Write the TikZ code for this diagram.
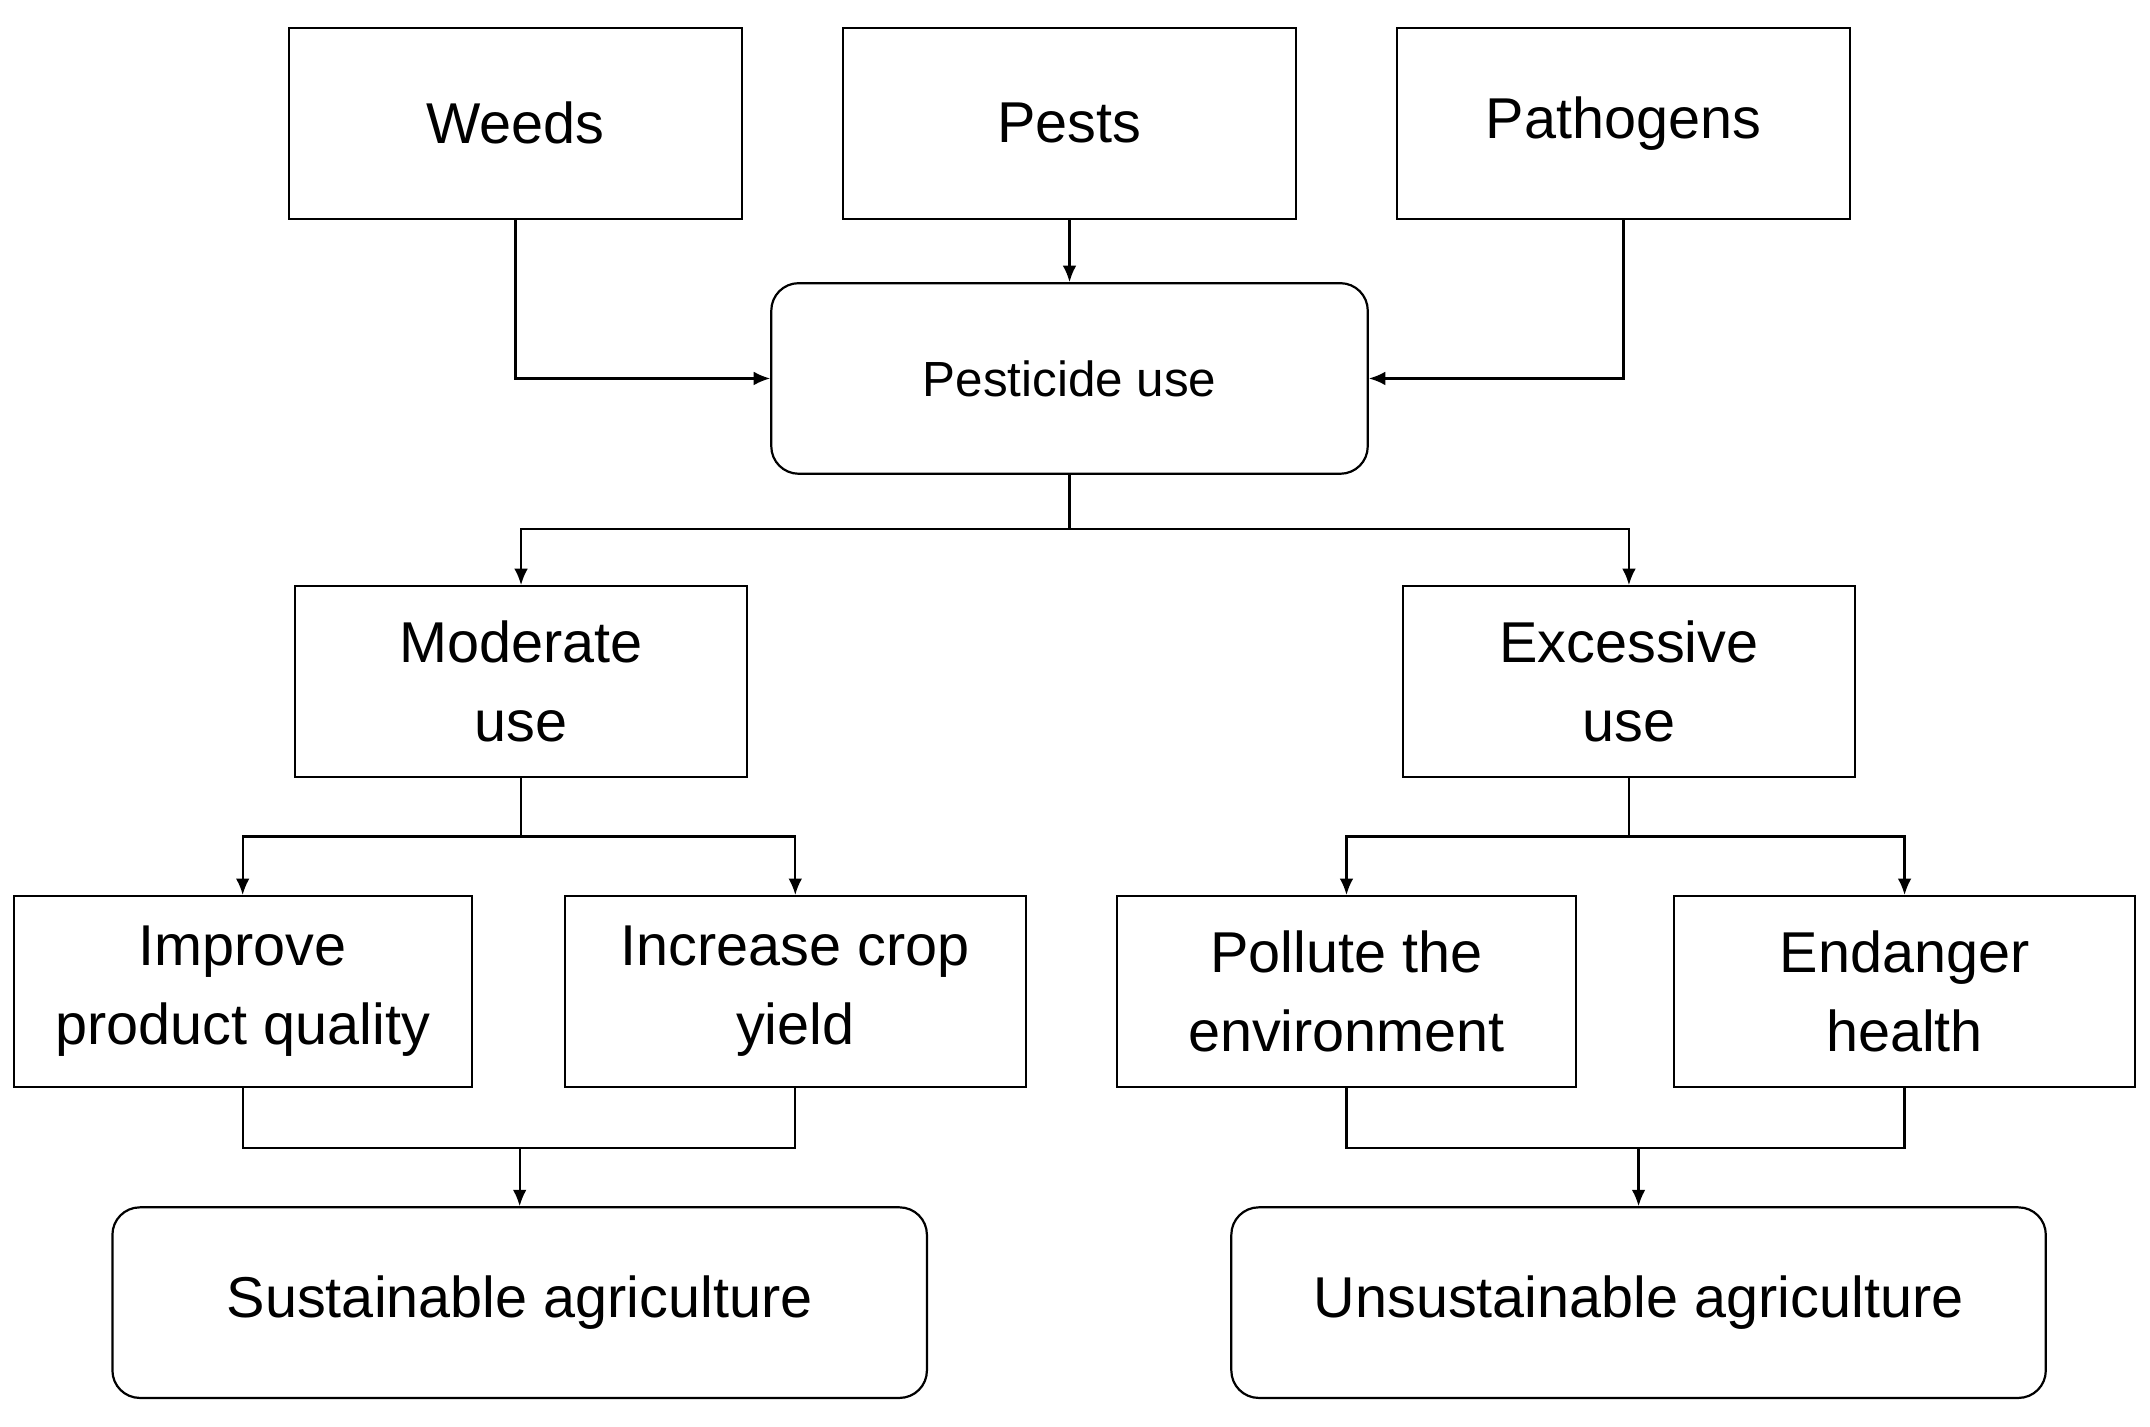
\documentclass[tikz,border=0pt]{standalone}
\usepackage{fontspec}
\setmainfont{Liberation Sans}
\usetikzlibrary{arrows.meta}
\begin{document}
\begin{tikzpicture}[x=0.5pt,y=-0.5pt,
  box/.style={draw,line width=0.8pt,minimum width=165pt,minimum height=69.5pt,inner sep=0pt,align=center,font=\fontsize{21}{29}\selectfont},
  rbox/.style={box,rounded corners=10pt},
  con/.style={line width=0.8pt},
  arr/.style={con,-{Latex[length=6pt,width=5pt]}}]
\useasboundingbox (0,0) rectangle (1568,1040);
\node[box] (weeds) at (376,90) {Weeds};
\node[box] (pests) at (780,90) {Pests};
\node[box] (path) at (1184,90) {Pathogens};
\node[rbox,minimum width=217.5pt,font=\fontsize{18}{24}\selectfont] (pu) at (780,276) {Pesticide use};
\node[box] (mod) at (380,497) {Moderate\\use};
\node[box] (exc) at (1188,497) {Excessive\\use};
\node[box,minimum width=167pt] (imp) at (177,723) {Improve\\product quality};
\node[box,minimum width=168pt] (inc) at (580,723) {Increase crop\\yield};
\node[box,minimum width=167.5pt] (pol) at (982,723) {Pollute the\\environment};
\node[box,minimum width=168pt] (end) at (1389,723) {Endanger\\health};
\node[rbox,minimum width=297pt] (sus) at (379,950) {Sustainable agriculture};
\node[rbox,minimum width=297pt] (uns) at (1195,950) {Unsustainable agriculture};
\draw[arr] (weeds.south) |- (pu.west);
\draw[arr] (pests) -- (pu);
\draw[arr] (path.south) |- (pu.east);
\coordinate (j1) at (780,386);
\draw[con] (pu.south) -- (j1);
\draw[arr] (j1) -| (mod.north);
\draw[arr] (j1) -| (exc.north);
\coordinate (j2) at (380,610);
\draw[con] (mod.south) -- (j2);
\draw[arr] (j2) -| (imp.north);
\draw[arr] (j2) -| (inc.north);
\coordinate (j3) at (1188,610);
\draw[con] (exc.south) -- (j3);
\draw[arr] (j3) -| (pol.north);
\draw[arr] (j3) -| (end.north);
\coordinate (j4) at (379,837);
\draw[con] (imp.south) |- (j4) -| (inc.south);
\draw[arr] (j4) -- (sus.north);
\coordinate (j5) at (1195,837);
\draw[con] (pol.south) |- (j5) -| (end.south);
\draw[arr] (j5) -- (uns.north);
\end{tikzpicture}
\end{document}
